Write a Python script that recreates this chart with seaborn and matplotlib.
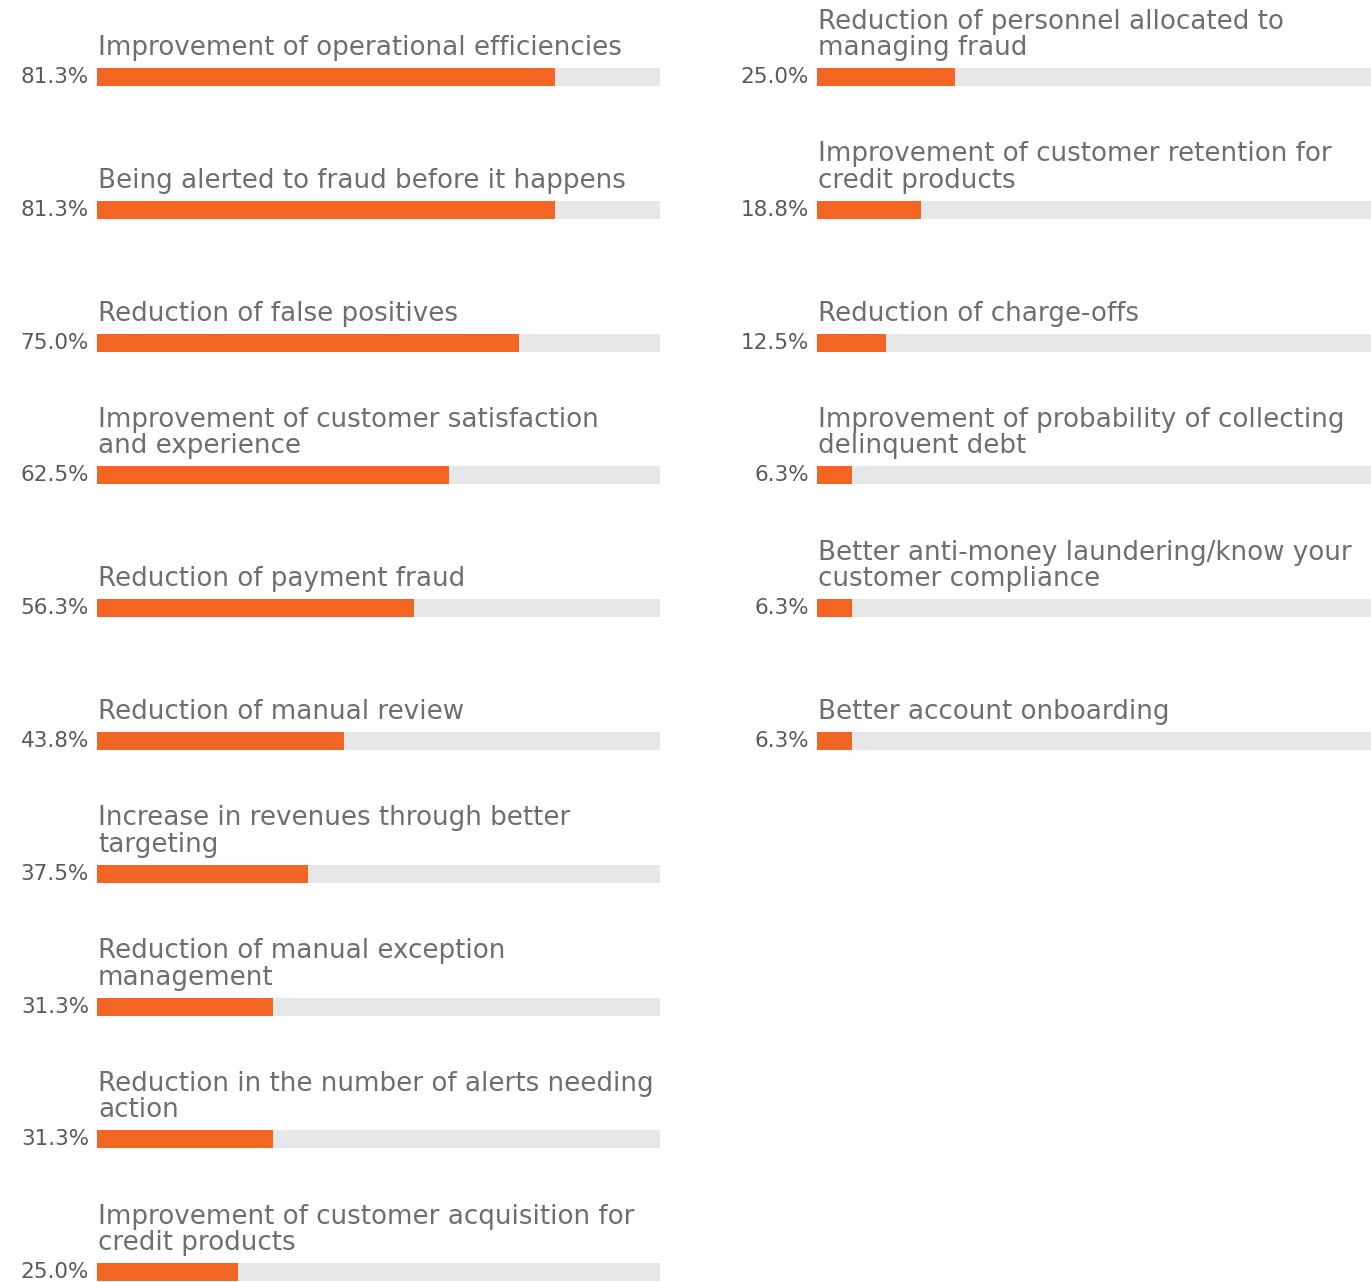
import matplotlib
matplotlib.use("Agg")
import matplotlib.pyplot as plt
import seaborn as sns
import pandas as pd

left_labels = [
    "Improvement of operational efficiencies",
    "Being alerted to fraud before it happens",
    "Reduction of false positives",
    "Improvement of customer satisfaction\nand experience",
    "Reduction of payment fraud",
    "Reduction of manual review",
    "Increase in revenues through better\ntargeting",
    "Reduction of manual exception\nmanagement",
    "Reduction in the number of alerts needing\naction",
    "Improvement of customer acquisition for\ncredit products",
]
left_values = [81.3, 81.3, 75.0, 62.5, 56.3, 43.8, 37.5, 31.3, 31.3, 25.0]

right_labels = [
    "Reduction of personnel allocated to\nmanaging fraud",
    "Improvement of customer retention for\ncredit products",
    "Reduction of charge-offs",
    "Improvement of probability of collecting\ndelinquent debt",
    "Better anti-money laundering/know your\ncustomer compliance",
    "Better account onboarding",
]
right_values = [25.0, 18.8, 12.5, 6.3, 6.3, 6.3]

ORANGE = "#F26522"
TRACK = "#E6E7E8"
TEXT = "#6D6E71"
PCT = "#58595B"

sns.set_theme(style="white")
plt.rcParams["font.family"] = ["DejaVu Sans"]

W, H = 1371, 1282
fig = plt.figure(figsize=(W / 100, H / 100), dpi=100)

row_px = 132.8
first_px = 77
ytop = -first_px / row_px
ybot = ytop + H / row_px
bar_w = 18 / row_px


def draw(ax, labels, values):
    df = pd.DataFrame({"cat": [f"c{i}" for i in range(len(labels))],
                       "val": values, "full": [100.0] * len(labels)})
    sns.barplot(data=df, x="full", y="cat", orient="h", color=TRACK,
                width=bar_w, ax=ax, saturation=1, linewidth=0)
    sns.barplot(data=df, x="val", y="cat", orient="h", color=ORANGE,
                width=bar_w, ax=ax, saturation=1, linewidth=0)
    ax.set_xlim(0, 100)
    ax.set_ylim(ybot, ytop)
    ax.axis("off")
    for i, (lab, v) in enumerate(zip(labels, values)):
        ax.annotate(lab, xy=(0, i - bar_w / 2), xytext=(1, 7),
                    textcoords="offset pixels", ha="left", va="bottom",
                    fontsize=18.8, color=TEXT, linespacing=1.02)
        ax.annotate(f"{v:.1f}%", xy=(0, i), xytext=(-8, 0),
                    textcoords="offset pixels", ha="right", va="center",
                    fontsize=15.5, color=PCT)


axL = fig.add_axes([97 / W, 0, (660 - 97) / W, 1])
axR = fig.add_axes([817 / W, 0, (1371 - 817) / W, 1])
draw(axL, left_labels, left_values)
draw(axR, right_labels, right_values)

fig.savefig("out.png", dpi=100, facecolor="white")
